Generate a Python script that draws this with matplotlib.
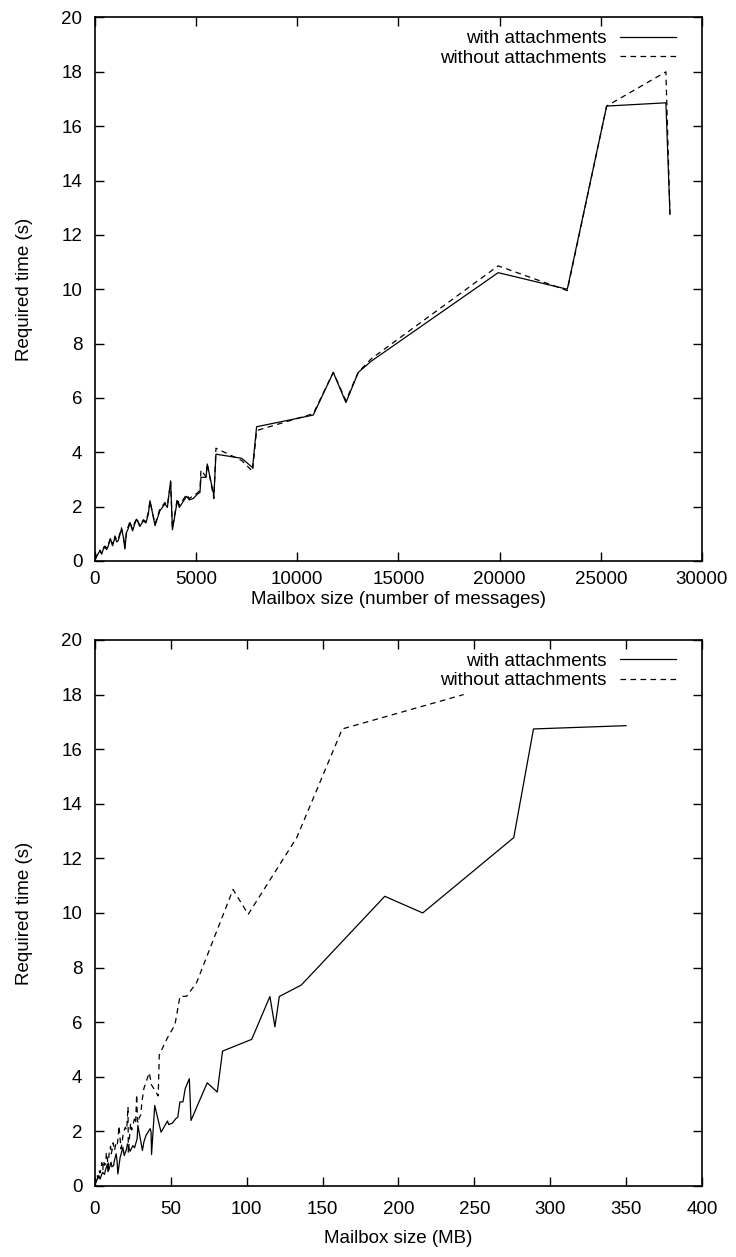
import numpy as np
import matplotlib.pyplot as plt

plt.rcParams['font.family'] = ['Liberation Sans', 'DejaVu Sans']
plt.rcParams['font.size'] = 13.5

# one row per mailbox: messages, time with / without attachments, size (MB) with / without
msgs = [0, 120, 250, 330, 420, 500, 580, 660, 770, 870,
        990, 1080, 1150, 1230, 1310, 1400, 1480, 1560, 1650, 1730,
        1860, 1960, 2060, 2220, 2390, 2520, 2640, 2720, 2970, 3100,
        3210, 3460, 3580, 3740, 3830, 4070, 4170, 4530, 4660, 4860,
        5060, 5190, 5240, 5490, 5550, 5880, 5980, 7250, 7790, 7990,
        10790, 11780, 12405, 13015, 13670, 19930, 23345, 25290, 28220, 28420]
t_with = [0.05, 0.22, 0.38, 0.25, 0.45, 0.50, 0.42, 0.56, 0.81, 0.56,
          0.87, 0.70, 0.75, 0.95, 1.18, 0.90, 0.44, 1.05, 1.20, 1.42,
          1.11, 1.35, 1.54, 1.27, 1.48, 1.40, 1.73, 2.22, 1.30, 1.60,
          1.85, 2.10, 1.97, 2.95, 1.15, 2.22, 1.97, 2.38, 2.25, 2.30,
          2.46, 2.52, 3.08, 3.08, 3.57, 2.40, 3.93, 3.78, 3.44, 4.94,
          5.37, 6.94, 5.83, 6.94, 7.36, 10.61, 10.00, 16.74, 16.86, 12.76]
t_without = [0.05, 0.25, 0.40, 0.28, 0.50, 0.55, 0.48, 0.62, 0.85, 0.60,
             0.92, 0.76, 0.80, 1.02, 1.22, 0.95, 0.50, 1.10, 1.28, 1.45,
             1.16, 1.40, 1.58, 1.30, 1.52, 1.45, 1.80, 2.20, 1.36, 1.65,
             1.92, 2.15, 2.05, 2.90, 1.20, 2.30, 2.05, 2.45, 2.30, 2.40,
             2.50, 2.60, 3.35, 3.10, 3.58, 2.30, 4.15, 3.70, 3.30, 4.80,
             5.42, 6.94, 5.90, 6.95, 7.45, 10.86, 9.95, 16.74, 18.00, 12.76]
mb_with = [0.0, 1.3, 2.6, 3.4, 4.6, 5.1, 6.3, 6.8, 8.3, 9.0,
           10.6, 11.2, 12.3, 12.9, 14.0, 14.6, 15.1, 16.6, 17.4, 18.4,
           19.3, 20.8, 21.4, 23.2, 25.0, 26.1, 27.8, 28.3, 31.3, 32.2,
           33.6, 36.4, 37.0, 39.4, 37.3, 42.5, 43.6, 47.8, 48.6, 51.0,
           53.2, 54.6, 56.0, 58.0, 59.5, 63.3, 62.2, 74.0, 80.6, 84.1,
           103.3, 115.3, 118.6, 121.5, 136.0, 191.0, 216.0, 289.0, 350.0, 276.0]
mb_without = [0.0, 0.7, 1.4, 2.0, 2.4, 3.0, 3.3, 4.0, 4.5, 5.2,
              5.6, 6.4, 6.8, 7.3, 7.5, 8.3, 8.6, 9.2, 9.5, 10.3,
              10.7, 11.6, 12.0, 12.9, 13.7, 14.6, 15.3, 15.8, 17.2, 18.0,
              18.6, 20.0, 20.9, 21.8, 22.0, 23.5, 24.2, 26.0, 26.8, 28.0,
              29.1, 30.2, 27.5, 31.0, 32.3, 28.5, 35.8, 37.3, 41.7, 42.4,
              47.7, 56.0, 52.7, 60.4, 67.0, 91.0, 101.0, 163.0, 243.0, 133.0]

msgs = np.array(msgs)
t_with = np.array(t_with)
t_without = np.array(t_without)
mb_with = np.array(mb_with)
mb_without = np.array(mb_without)

fig = plt.figure(figsize=(7.36, 12.57), dpi=100)
ax1 = fig.add_axes([0.129, 0.5537, 0.8247, 0.4324])
ax2 = fig.add_axes([0.129, 0.0565, 0.8247, 0.4344])

dash = (0, (4.5, 3.5))
lw = 0.9


def style(ax, xmax, xstep, xlabel, xpad, xlab_y):
    ax.set_xlim(0, xmax)
    ax.set_ylim(0, 20)
    ax.set_xticks(np.arange(0, xmax + 1, xstep))
    ax.set_yticks(np.arange(0, 21, 2))
    ax.tick_params(direction='in', length=6.5, width=1, top=True, right=True)
    ax.tick_params(axis='y', pad=9)
    ax.tick_params(axis='x', pad=xpad)
    for s in ax.spines.values():
        s.set_linewidth(1.2)
    ax.set_xlabel(xlabel)
    ax.set_ylabel('Required time (s)')
    ax.yaxis.set_label_coords(-0.102, 0.5)
    ax.xaxis.set_label_coords(0.5, xlab_y)
    leg = ax.legend(loc='upper right', bbox_to_anchor=(0.967, 0.987),
                    frameon=False, markerfirst=False,
                    handlelength=3.0, handletextpad=0.7, labelspacing=0.12,
                    borderaxespad=0, borderpad=0.3)
    for col in leg._legend_handle_box.get_children():
        col.align = 'right'


o = np.argsort(msgs)
ax1.plot(msgs[o], t_with[o], color='black', lw=lw, label='with attachments')
ax1.plot(msgs[o], t_without[o], color='black', lw=lw, ls=dash,
         label='without attachments')
style(ax1, 30000, 5000, 'Mailbox size (number of messages)', 7, -0.056)

o1 = np.argsort(mb_with)
o2 = np.argsort(mb_without)
ax2.plot(mb_with[o1], t_with[o1], color='black', lw=lw, label='with attachments')
ax2.plot(mb_without[o2], t_without[o2], color='black', lw=lw, ls=dash,
         label='without attachments')
style(ax2, 400, 50, 'Mailbox size (MB)', 10.5, -0.08)

fig.savefig('out.png', dpi=100)
